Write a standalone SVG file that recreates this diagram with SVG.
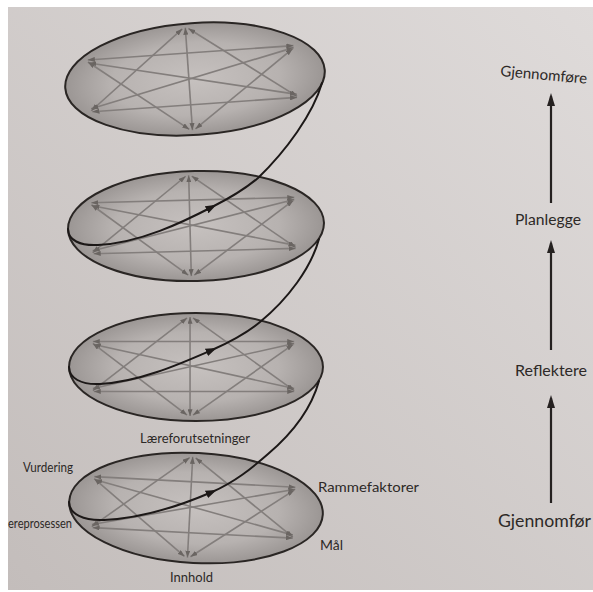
<svg xmlns="http://www.w3.org/2000/svg" width="593" height="592" viewBox="0 0 593 592">
<defs>
<linearGradient id="paper" x1="1" y1="0" x2="0" y2="1">
<stop offset="0" stop-color="#dfdbda"/>
<stop offset="1" stop-color="#c3bdbb"/>
</linearGradient>
<radialGradient id="diskfill" cx="0.5" cy="0.5" r="0.5">
<stop offset="0" stop-color="#c6c1bf"/>
<stop offset="0.65" stop-color="#b7b2b0"/>
<stop offset="1" stop-color="#9b9694"/>
</radialGradient>
<marker id="ah" viewBox="0 0 7 5" refX="7" refY="2.5" markerWidth="7" markerHeight="5" orient="auto-start-reverse" markerUnits="userSpaceOnUse">
<path d="M0,0 L7,2.5 L0,5 z" fill="#6a6562"/>
</marker>
<marker id="sa" viewBox="0 0 11 8" refX="6" refY="4" markerWidth="11" markerHeight="8" orient="auto" markerUnits="userSpaceOnUse">
<path d="M0,0 L11,4 L0,8 z" fill="#1c1817"/>
</marker>
<marker id="va" viewBox="0 0 13 8" refX="10" refY="4" markerWidth="13" markerHeight="8" orient="auto" markerUnits="userSpaceOnUse">
<path d="M0,0 L13,4 L0,8 z" fill="#252120"/>
</marker>
<g id="disk">
<ellipse cx="0" cy="0" rx="128" ry="55" fill="url(#diskfill)" stroke="#2a2624" stroke-width="2"/>
<g class="star">
<line x1="-6" y1="-51" x2="-6" y2="50"/>
<line x1="-9" y1="-50" x2="-104" y2="24"/>
<line x1="-3" y1="-50" x2="99" y2="24"/>
<line x1="-104" y1="-26" x2="99" y2="-26"/>
<line x1="-103" y1="-23" x2="99" y2="22"/>
<line x1="-104" y1="-24" x2="-9" y2="49"/>
<line x1="99" y1="-24" x2="-104" y2="22"/>
<line x1="98" y1="-23" x2="-3" y2="49"/>
<line x1="-103" y1="25" x2="99" y2="25"/>
</g>
</g>
</defs>
<style>
.star line { stroke: #837e7c; stroke-width: 1.6; marker-start: url(#ah); marker-end: url(#ah); }
.spiral { fill: none; stroke: #1c1817; stroke-width: 2; stroke-linecap: round; }
.varrow { stroke: #252120; stroke-width: 2.2; marker-end: url(#va); }
text { font-family: Lato, "Open Sans", "DejaVu Sans", sans-serif; fill: #2d2927; }
</style>
<rect x="0" y="0" width="593" height="592" fill="#ffffff"/>
<rect x="8" y="7" width="585" height="583" fill="url(#paper)"/>

<g id="disk1" transform="translate(195 79) rotate(-4) scale(1.016 1.018)"><use href="#disk"/></g>
<g id="disk2" transform="translate(196 226) rotate(-1.5)"><use href="#disk"/></g>
<g id="disk3" transform="translate(196 367) scale(0.992 0.982)"><use href="#disk"/></g>
<g id="disk4" transform="translate(196 508) rotate(3) scale(0.992 1)"><use href="#disk"/></g>

<g id="connectors">
<path class="spiral" d="M69 502 C69 514 84 521 104 520 C145 518 182 505 212 492" marker-end="url(#sa)"/>
<path class="spiral" d="M212 492 C235 482 252 468 268 454 C294 432 312 406 319 381"/>
<path class="spiral" d="M69 367 C69 378 81 385 100 384 C140 382 182 363 212 350" marker-end="url(#sa)"/>
<path class="spiral" d="M212 350 C232 341 248 332 260 322 C288 299 311 268 319 239"/>
<path class="spiral" d="M68 229 C68 240 80 246 98 245 C140 243 183 222 212 207" marker-end="url(#sa)"/>
<path class="spiral" d="M212 207 C230 198 245 189 258 178 C286 151 313 114 322 83"/>
<line class="varrow" x1="551" y1="203" x2="551" y2="96"/>
<line class="varrow" x1="551" y1="350" x2="551" y2="243"/>
<line class="varrow" x1="551" y1="503" x2="551" y2="398"/>
</g>

<g id="labels">
<text x="140" y="443" font-size="13.5" textLength="110" lengthAdjust="spacingAndGlyphs">Læreforutsetninger</text>
<text x="23" y="472" font-size="12.5" textLength="50" lengthAdjust="spacingAndGlyphs">Vurdering</text>
<text x="8" y="528" font-size="12.5" textLength="64" lengthAdjust="spacingAndGlyphs">ereprosessen</text>
<text x="318" y="492" font-size="14" textLength="101" lengthAdjust="spacingAndGlyphs">Rammefaktorer</text>
<text x="320" y="550" font-size="14">Mål</text>
<text x="170" y="582" font-size="13" textLength="43" lengthAdjust="spacingAndGlyphs">Innhold</text>
</g>
<g id="phases">
<text x="500" y="76" font-size="15" textLength="87" lengthAdjust="spacingAndGlyphs" transform="rotate(5 500 76)">Gjennomføre</text>
<text x="515" y="225" font-size="15.5" textLength="66" lengthAdjust="spacingAndGlyphs">Planlegge</text>
<text x="515" y="376" font-size="15.5" textLength="72" lengthAdjust="spacingAndGlyphs">Reflektere</text>
<text x="498" y="527" font-size="16.5" textLength="93" lengthAdjust="spacingAndGlyphs">Gjennomfør</text>
</g>
</svg>
